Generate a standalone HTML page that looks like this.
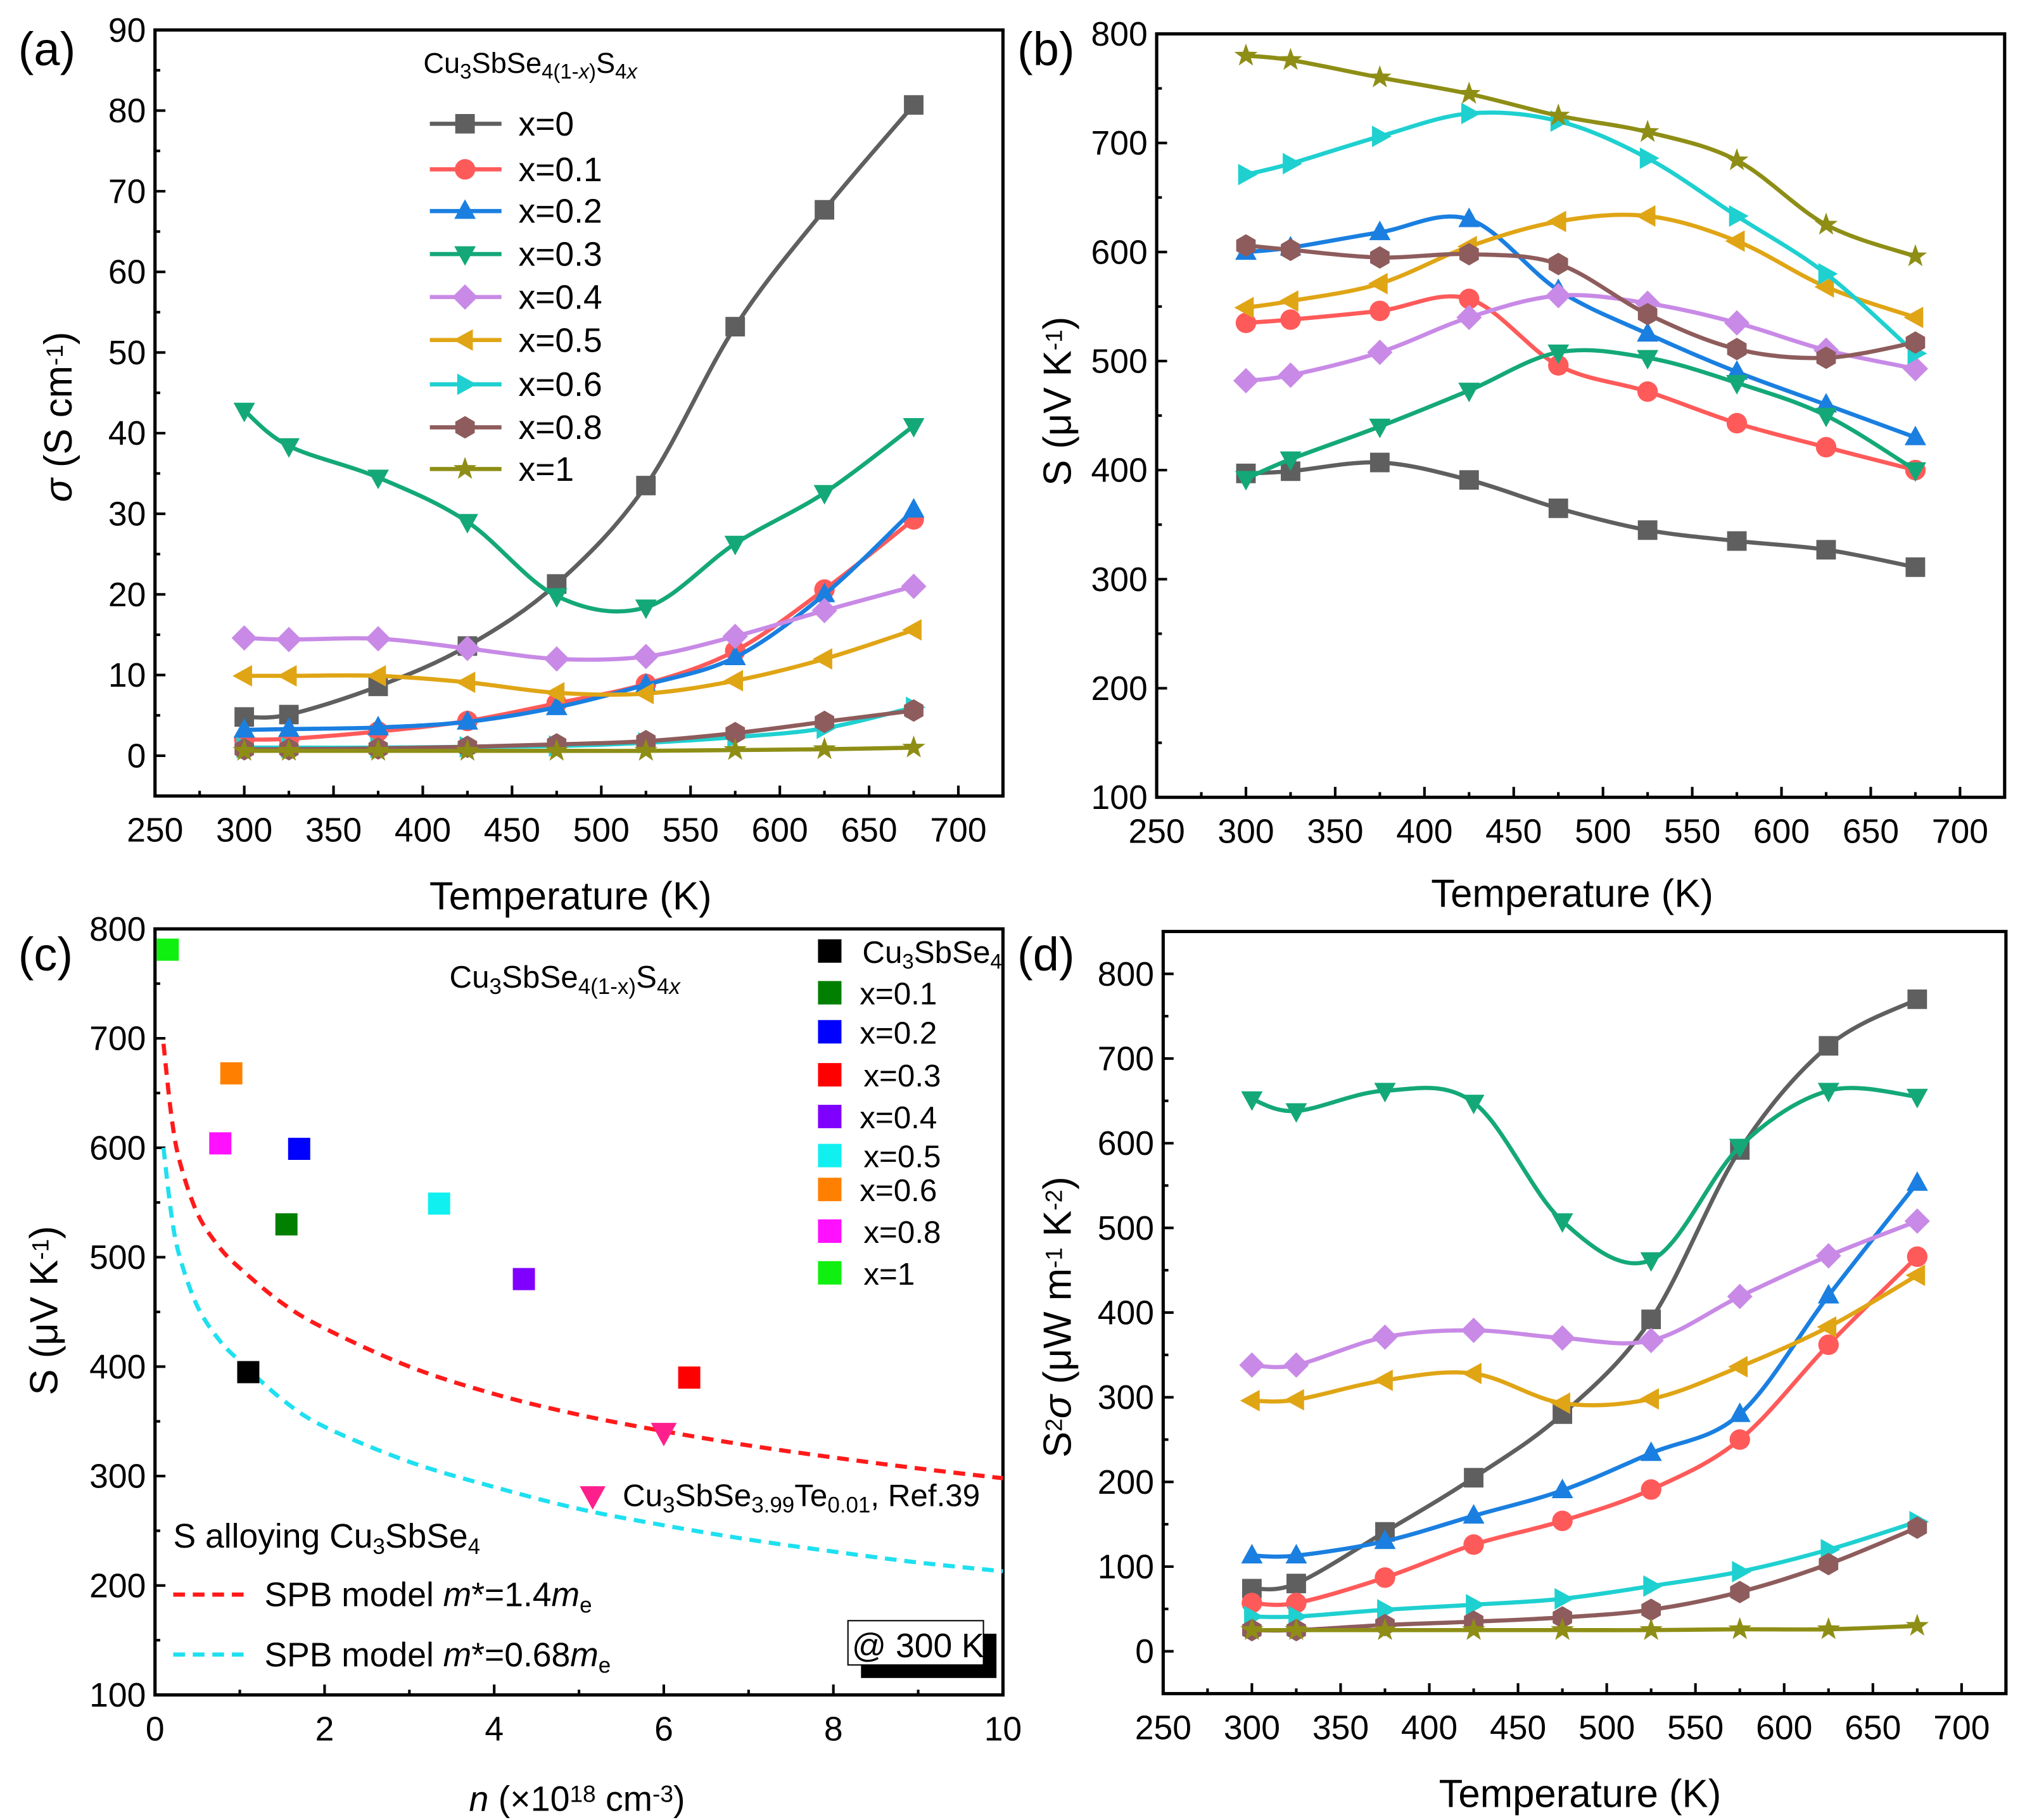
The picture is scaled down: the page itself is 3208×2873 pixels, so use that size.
<!DOCTYPE html>
<html><head><meta charset="utf-8"><style>
html,body{margin:0;padding:0;background:#fff}
svg{display:block}
text{font-family:"Liberation Sans",Arial,sans-serif;fill:#000}
</style></head><body>
<svg id="fig" xmlns="http://www.w3.org/2000/svg" width="3208" height="2873" viewBox="0 0 1560 1397" preserveAspectRatio="none">
<rect x="0" y="0" width="1560" height="1397" fill="#fff"/>
</svg>
<script>
const temps = [300,325,375,425,475,525,575,625,675];
const seriesNames = ["x=0","x=0.1","x=0.2","x=0.3","x=0.4"," x=0.5"," x=0.6","x=0.8","x=1"];
const sigma0 = [4.8,5.1,8.6,13.6,21.3,33.5,53.2,67.7,80.7];
const sigma1 = [2.0,2.1,3.0,4.3,6.5,8.9,13.0,20.6,29.3];
const sigma2 = [3.2,3.3,3.5,4.2,6.0,8.8,12.2,20.0,30.5];
const sigma3 = [42.8,38.4,34.5,29.0,19.8,18.4,26.3,32.6,40.9];
const sigma4 = [14.6,14.4,14.5,13.3,12.0,12.3,14.8,18.0,21.0];
const sigma5 = [9.9,9.9,9.9,9.1,7.8,7.7,9.3,12.0,15.6];
const sigma6 = [1.0,1.0,1.0,1.1,1.2,1.6,2.3,3.4,6.0];
const sigma8 = [0.8,0.8,0.9,1.1,1.4,1.8,2.8,4.2,5.6];
const sigma10 = [0.6,0.6,0.6,0.6,0.6,0.6,0.7,0.8,1.0];
const seeb0 = [397,399,407,391,365,345,335,327,311];
const seeb1 = [535,538,546,557,496,472,443,421,400];
const seeb2 = [600,604,618,630,565,525,490,460,430];
const seeb3 = [392,410,440,473,508,503,480,450,400];
const seeb4 = [482,487,508,540,560,553,535,510,493];
const seeb5 = [549,555,571,605,628,633,610,568,540];
const seeb6 = [671,681,706,727,720,686,633,580,507];
const seeb8 = [606,602,595,598,589,543,511,503,517];
const seeb10 = [780,776,760,745,725,710,684,625,596];
const pf0 = [74,80,141,205,280,392,592,715,770];
const pf1 = [57,57,87,126,154,191,250,362,466];
const pf2 = [113,113,130,160,190,234,280,420,553];
const pf3 = [652,638,662,648,508,462,596,662,655];
const pf4 = [338,338,371,379,370,367,419,467,508];
const pf5 = [296,297,320,328,293,298,336,383,444];
const pf6 = [41,41,49,55,62,77,94,120,153];
const pf8 = [25,25,31,35,40,49,70,103,146];
const pf10 = [25,25,25,25,25,25,26,26,30];
const tempTicks = [250,300,350,400,450,500,550,600,650,700];
const sigmaTicks = [0,10,20,30,40,50,60,70,80,90];
const seebTicks = [100,200,300,400,500,600,700,800];
const pfTicks = [0,100,200,300,400,500,600,700,800];
const nTicks = [0,2,4,6,8,10];
const cNames = ["Cu3SbSe4","x=0.1","x=0.2","x=0.3","x=0.4","x=0.5","x=0.6","x=0.8","x=1"];
const cN = [1.1,1.55,1.7,6.3,4.35,3.35,0.9,0.77,0.15];
const cS = [395,530,599,390,480,549,668,604,781];
const refN = [6.0];
const refS = [340];
const spbN = [0.1,0.2,0.3,0.5,0.75,1,1.5,2,3,4,5,6,7,8,9,10];
const spbRed = [695,625,585,540,510,490,458,435,400,375,356,341,328,317,307,298];
const spbCyan = [600,535,498,455,425,405,370,345,313,290,270,255,242,231,221,213];

const NS="http://www.w3.org/2000/svg";
const svg=document.getElementById('fig');
function mk(tag,attrs,parent){const e=document.createElementNS(NS,tag);for(const k in attrs)e.setAttribute(k,attrs[k]);(parent||svg).appendChild(e);return e;}
const colors=["#5f5f5f","#ff5a5a","#1a7fe0","#14a878","#c88ae6","#e0a515","#1fd0d0","#8e5c5c","#8e8e16"];
const markers=["square","circle","up","down","diamond","left","right","hex","star"];
function marker(type,x,y,r,fill,g){
  let p;
  if(type==="square")p=`M${x-r},${y-r}h${2*r}v${2*r}h${-2*r}Z`;
  else if(type==="circle"){const e=mk('circle',{cx:x,cy:y,r:r*1.05,fill:fill},g);return e;}
  else if(type==="up")p=`M${x},${y-r*1.2}L${x+r*1.1},${y+r*0.8}L${x-r*1.1},${y+r*0.8}Z`;
  else if(type==="down")p=`M${x},${y+r*1.2}L${x+r*1.1},${y-r*0.8}L${x-r*1.1},${y-r*0.8}Z`;
  else if(type==="left")p=`M${x-r*1.2},${y}L${x+r*0.8},${y-r*1.1}L${x+r*0.8},${y+r*1.1}Z`;
  else if(type==="right")p=`M${x+r*1.2},${y}L${x-r*0.8},${y-r*1.1}L${x-r*0.8},${y+r*1.1}Z`;
  else if(type==="diamond")p=`M${x},${y-r*1.3}L${x+r*1.3},${y}L${x},${y+r*1.3}L${x-r*1.3},${y}Z`;
  else if(type==="hex"){p="";for(let i=0;i<6;i++){const a=Math.PI/6+i*Math.PI/3;p+=(i?"L":"M")+(x+r*1.15*Math.cos(a))+","+(y+r*1.15*Math.sin(a));}p+="Z";}
  else if(type==="star"){p="";for(let i=0;i<10;i++){const a=-Math.PI/2+i*Math.PI/5;const rr=i%2?r*0.5:r*1.25;p+=(i?"L":"M")+(x+rr*Math.cos(a))+","+(y+rr*Math.sin(a));}p+="Z";}
  return mk('path',{d:p,fill:fill},g);
}
function spline(pts){
  let d=`M${pts[0][0]},${pts[0][1]}`;
  for(let i=0;i<pts.length-1;i++){
    const p0=pts[Math.max(0,i-1)],p1=pts[i],p2=pts[i+1],p3=pts[Math.min(pts.length-1,i+2)];
    const c1=[p1[0]+(p2[0]-p0[0])/6,p1[1]+(p2[1]-p0[1])/6];
    const c2=[p2[0]-(p3[0]-p1[0])/6,p2[1]-(p3[1]-p1[1])/6];
    d+=`C${c1[0]},${c1[1]} ${c2[0]},${c2[1]} ${p2[0]},${p2[1]}`;
  }
  return d;
}
function axes(name,box,xr,yr,xt,yt,xminorStep,yminorStep){
  const [L,T,R,B]=box;
  const sx=v=>L+(v-xr[0])/(xr[1]-xr[0])*(R-L);
  const sy=v=>B-(v-yr[0])/(yr[1]-yr[0])*(B-T);
  const g=mk('g',{});
  
  
  xt.forEach((v,i)=>{
    const x=sx(v);
    mk('line',{x1:x,y1:B,x2:x,y2:B-8,stroke:'#000','stroke-width':2},g);
    const t=mk('text',{x:x,y:B+35,'font-size':26,'text-anchor':'middle'},g);t.textContent=v;
    
    
    const m=v+xminorStep;
    if(m<xr[1]){const xm=sx(m);mk('line',{x1:xm,y1:B,x2:xm,y2:B-4,stroke:'#000','stroke-width':2},g);}
  });
  yt.forEach(v=>{
    const y=sy(v);
    mk('line',{x1:L,y1:y,x2:L+8,y2:y,stroke:'#000','stroke-width':2},g);
    const t=mk('text',{x:L-7,y:y+9,'font-size':26,'text-anchor':'end'},g);t.textContent=v;
    
    
    const m=v+yminorStep;
    if(m<yr[1]){const ym=sy(m);mk('line',{x1:L,y1:ym,x2:L+4,y2:ym,stroke:'#000','stroke-width':2},g);}
  });
  mk('rect',{x:L,y:T,width:R-L,height:B-T,fill:'none',stroke:'#000','stroke-width':2.5},g);
  return {sx,sy,g};
}
function seriesPanel(name,ax,data){
  data.forEach((vals,i)=>{
    const pts=temps.map((t,j)=>[ax.sx(t),ax.sy(vals[j])]);
    const g=mk('g',{});
    
    
    mk('path',{d:spline(pts),fill:'none',stroke:colors[i],'stroke-width':3.2},g);
    pts.forEach(p=>marker(markers[i],p[0],p[1],7.5,colors[i],g));
  });
}
function txt(s,x,y,size,name,anchor,extra){
  const t=mk('text',Object.assign({x:x,y:y,'font-size':size,'text-anchor':anchor||'start'},extra||{}));
  t.innerHTML=s;
  
  
  return t;
}
const SUB=(s,sz)=>`<tspan baseline-shift="-28%" font-size="${sz||17}">${s}</tspan>`;
const SUP=(s,sz)=>`<tspan baseline-shift="38%" font-size="${sz||17}">${s}</tspan>`;

// Panel a
const axA=axes('panel-a',[119,23,770,611],[250,725],[-5,90],tempTicks,sigmaTicks,25,5);
seriesPanel('panel-a',axA,[sigma0,sigma1,sigma2,sigma3,sigma4,sigma5,sigma6,sigma8,sigma10]);
// Panel b
const axB=axes('panel-b',[888,26,1539,612],[250,725],[100,800],tempTicks,seebTicks,25,50);
seriesPanel('panel-b',axB,[seeb0,seeb1,seeb2,seeb3,seeb4,seeb5,seeb6,seeb8,seeb10]);
// Panel d
const axD=axes('panel-d',[893,715,1540,1300],[250,725],[-50,850],tempTicks,pfTicks,25,50);
seriesPanel('panel-d',axD,[pf0,pf1,pf2,pf3,pf4,pf5,pf6,pf8,pf10]);
// Panel c
const axC=axes('panel-c',[119,713,770,1301],[0,10],[100,800],nTicks,seebTicks,1,50);
function curve(ns,ss,col,name){
  const pts=ns.map((n,i)=>[axC.sx(n),axC.sy(ss[i])]);
  const p=mk('path',{d:spline(pts),fill:'none',stroke:col,'stroke-width':3.2,'stroke-dasharray':'9,6'});
  
  
}
curve(spbN,spbRed,'#ff1a1a','spb-curve-red');
curve(spbN,spbCyan,'#1ee0f0','spb-curve-cyan');
const cCols=["#000000","#007f00","#0000ff","#ff0000","#8000ff","#10f0f0","#ff8000","#ff10ff","#10f010"];
cN.forEach((n,i)=>{
  const s=marker('square',axC.sx(n),axC.sy(cS[i]),8.5,cCols[i]);
  
  
});
refN.forEach((n,i)=>{
  const s=marker('down',axC.sx(n),axC.sy(refS[i]),9,'#ff1f8c');
  
  
});
// Panel c legend
const ly=[730,762,792,825,857,887,913,945,977];
cNames.forEach((nm,i)=>{
  marker('square',637,ly[i],9,cCols[i]);
  const label=i===0?`Cu${SUB('3',16)}SbSe${SUB('4',16)}`:nm;
  txt(label,i===0?662:(i===3||i===5||i===7||i===8?663:660),ly[i]+9,24,'legend-c-entry');
});
txt(`Cu${SUB('3',17)}SbSe${SUB('4(1-x)',17)}S${SUB('4<tspan font-style="italic">x</tspan>',17)}`,345,758,24,'panel-c-title');
marker('down',455,1148,9,'#ff1f8c');
txt(`Cu${SUB('3',17)}SbSe${SUB('3.99',17)}Te${SUB('0.01',17)}, Ref.39`,478,1156,24,'ref39-label');
txt(`S alloying Cu${SUB('3',17)}SbSe${SUB('4',17)}`,133,1188,26,'s-alloying-label');
mk('line',{x1:133,y1:1224,x2:190,y2:1224,stroke:'#ff1a1a','stroke-width':3.2,'stroke-dasharray':'9,6'});
txt(`SPB model <tspan font-style="italic">m</tspan>*=1.4<tspan font-style="italic">m</tspan>${SUB('e',17)}`,203,1233,26,'spb-legend-red');
mk('line',{x1:133,y1:1270,x2:190,y2:1270,stroke:'#1ee0f0','stroke-width':3.2,'stroke-dasharray':'9,6'});
txt(`SPB model <tspan font-style="italic">m</tspan>*=0.68<tspan font-style="italic">m</tspan>${SUB('e',17)}`,203,1279,26,'spb-legend-cyan');
mk('rect',{x:661,y:1254,width:104,height:34,fill:'#000'});
mk('rect',{x:651,y:1244,width:104,height:34,fill:'#fff',stroke:'#000','stroke-width':1});
txt('@ 300 K',654,1272,26,'temperature-note');

// Panel a legend
const la=[95,130,162,195,228,261,295,328,360];
seriesNames.forEach((nm,i)=>{
  mk('line',{x1:330,y1:la[i],x2:385,y2:la[i],stroke:colors[i],'stroke-width':3.2});
  marker(markers[i],357,la[i],7.5,colors[i]);
  txt(nm,398,la[i]+9,26,'legend-a-entry');
});
txt(`Cu${SUB('3',16)}SbSe${SUB('4(1-<tspan font-style="italic">x</tspan>)',16)}S${SUB('4<tspan font-style="italic">x</tspan>',16)}`,325,56,22,'panel-a-title');

// Panel labels
txt('(a)',14,50,36,'panel-a-label');
txt('(b)',781,50,36,'panel-b-label');
txt('(c)',14,745,36,'panel-c-label');
txt('(d)',781,745,36,'panel-d-label');
// Axis titles
txt('Temperature (K)',438,698,30,'x-axis-title-a','middle');
txt('Temperature (K)',1207,696,30,'x-axis-title-b','middle');
txt('Temperature (K)',1213,1387,30,'x-axis-title-d','middle');
txt(`<tspan font-style="italic">n</tspan> (×10${SUP('18',18)} cm${SUP('-3',18)})`,443,1390,27,'x-axis-title-c','middle');
txt(`<tspan font-style="italic">σ</tspan> (S cm${SUP('-1',18)})`,0,0,30,'y-axis-title-a','middle',{transform:'translate(55,320) rotate(-90)'});
txt(`S (μV K${SUP('-1',18)})`,0,0,30,'y-axis-title-b','middle',{transform:'translate(822,308) rotate(-90)'});
txt(`S (μV K${SUP('-1',18)})`,0,0,30,'y-axis-title-c','middle',{transform:'translate(44,1006) rotate(-90)'});
txt(`S${SUP('2',18)}<tspan font-style="italic">σ</tspan>  (μW m${SUP('-1',18)} K${SUP('-2',18)})`,0,0,30,'y-axis-title-d','middle',{transform:'translate(822,1011) rotate(-90)'});
</script>
</body></html>
